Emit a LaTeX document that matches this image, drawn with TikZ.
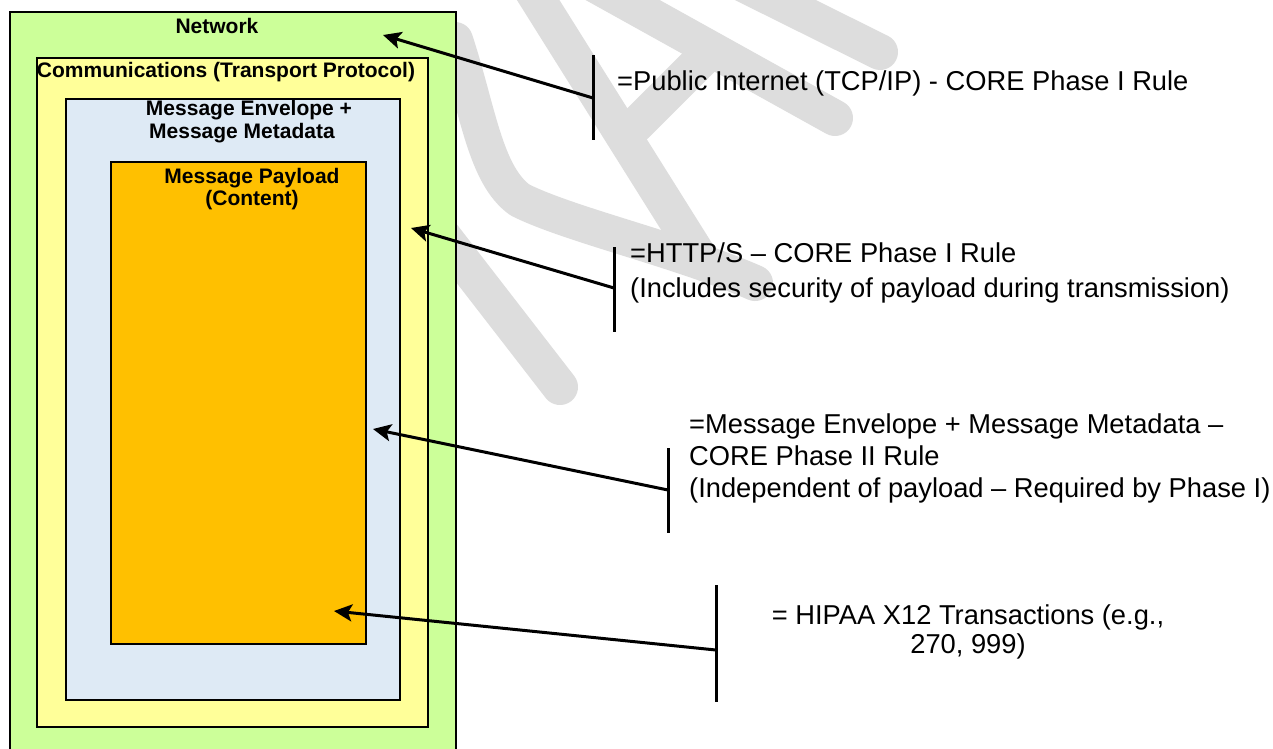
\documentclass[tikz,border=0pt]{standalone}
\usepackage{fontspec}
\setmainfont{Liberation Sans}
\usetikzlibrary{arrows.meta}
\definecolor{netgreen}{HTML}{CCFF99}
\definecolor{commyellow}{HTML}{FFFF99}
\definecolor{envblue}{HTML}{DEEAF5}
\definecolor{payorange}{HTML}{FFC000}
\definecolor{wmgray}{HTML}{DDDDDD}
\begin{document}
\begin{tikzpicture}[x=1pt,y=-1pt,
  layer/.style={draw=black, line width=2pt, inner sep=0pt, outer sep=0pt, anchor=north west},
  boxlabel/.style={font=\fontsize{21}{23}\selectfont\bfseries, inner sep=0pt, anchor=base},
  note/.style={font=\fontsize{27.3}{33}\selectfont, inner sep=0pt, anchor=base west},
  pointer/.style={line width=3pt, -{Stealth[length=18pt,width=17pt,inset=4pt]}},
  tick/.style={line width=3pt},
  wm/.style={wmgray, line width=36pt, line cap=round, line join=round}]
\useasboundingbox (0,0) rectangle (1273,748);
\clip (0,0) rectangle (1273,748);
\fill[white] (0,0) rectangle (1273,748);

% DRAFT watermark strokes behind the diagram
\draw[wm] (700,258) -- (493,-72) -- (835,118);
\draw[wm] (636,125) -- (705,56);
\draw[wm] (735,-20) -- (880,52);
\draw[wm] (440,232) -- (560,387);
\draw[wm] (455,40) .. controls (478,110) and (485,175) .. (520,200)
                   .. controls (570,225) and (680,250) .. (755,283);

% nested layers
\node[layer, fill=netgreen,   minimum width=446pt, minimum height=760pt] (net)  at (10,12)  {};
\node[layer, fill=commyellow, minimum width=391pt, minimum height=669pt] (comm) at (37,58)  {};
\node[layer, fill=envblue,    minimum width=334pt, minimum height=601pt] (env)  at (66,99)  {};
\node[layer, fill=payorange,  minimum width=255pt, minimum height=482pt] (pay)  at (111,162) {};

% layer titles
\node[boxlabel] (netlbl)  at (217,33)  {Network};
\node[boxlabel] (commlbl) at (226,77)  {Communications (Transport Protocol)};
\node[boxlabel] (envlbla) at (249,115) {Message Envelope +};
\node[boxlabel] (envlblb) at (242,138) {Message Metadata};
\node[boxlabel] (paylbla) at (252,183) {Message Payload};
\node[boxlabel] (paylblb) at (252,205) {(Content)};

% bracket bars and pointers
\coordinate (b1t) at (593,55);  \coordinate (b1b) at (593,140); \coordinate (b1m) at (593,98);  \coordinate (t1) at (383,35);
\coordinate (b2t) at (614,247); \coordinate (b2b) at (614,332); \coordinate (b2m) at (614,288); \coordinate (t2) at (411,228);
\coordinate (b3t) at (668,448); \coordinate (b3b) at (668,533); \coordinate (b3m) at (668,490); \coordinate (t3) at (373,429);
\coordinate (b4t) at (716,585); \coordinate (b4b) at (716,702); \coordinate (b4m) at (716,650); \coordinate (t4) at (334,611);

\draw[tick] (b1t) -- (b1b);
\draw[tick] (b2t) -- (b2b);
\draw[tick] (b3t) -- (b3b);
\draw[tick] (b4t) -- (b4b);

\draw[pointer] (b1m) -- (t1);
\draw[pointer] (b2m) -- (t2);
\draw[pointer] (b3m) -- (t3);
\draw[pointer] (b4m) -- (t4);

% annotations
\node[note] (n1)  at (617,90)  {=Public Internet (TCP/IP) - CORE Phase I Rule};
\node[note] (n2a) at (630,262) {=HTTP/S – CORE Phase I Rule};
\node[note] (n2b) at (630,297) {(Includes security of payload during transmission)};
\node[note] (n3a) at (689,433) {=Message Envelope + Message Metadata –};
\node[note] (n3b) at (689,465) {CORE Phase II Rule};
\node[note] (n3c) at (689,497) {(Independent of payload – Required by Phase I)};
\node[note, anchor=base] (n4a) at (968,624) {= HIPAA X12 Transactions (e.g.,};
\node[note, anchor=base] (n4b) at (968,653) {270, 999)};
\end{tikzpicture}
\end{document}
